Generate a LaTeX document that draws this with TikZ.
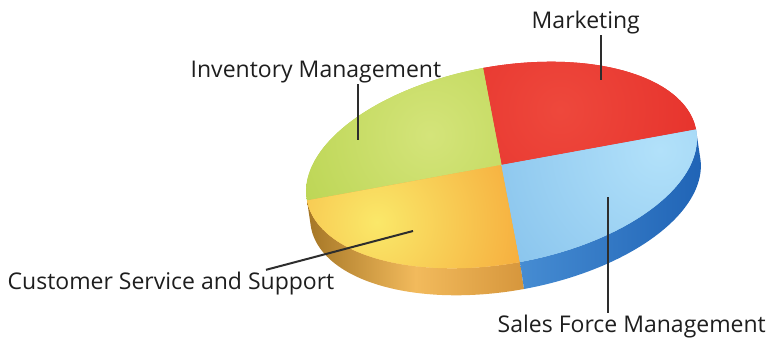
\documentclass[tikz,border=0pt]{standalone}
\usepackage{fontspec}
\setmainfont{Open Sans}
\definecolor{redbase}{RGB}{230,50,44}
\definecolor{redhl}{RGB}{238,72,60}
\definecolor{grbase}{RGB}{184,211,78}
\definecolor{grhl}{RGB}{212,228,122}
\definecolor{orbase}{RGB}{246,174,62}
\definecolor{orhl}{RGB}{250,232,105}
\definecolor{blbase}{RGB}{128,190,234}
\definecolor{blhl}{RGB}{178,225,250}
\definecolor{orsideA}{RGB}{165,118,38}
\definecolor{orsideB}{RGB}{242,186,92}
\definecolor{orsideC}{RGB}{214,150,60}
\definecolor{blsideA}{RGB}{70,140,210}
\definecolor{blsideB}{RGB}{32,100,182}
\definecolor{labeltext}{RGB}{30,30,30}
\definecolor{leadercol}{RGB}{45,45,45}
\begin{document}
\begin{tikzpicture}[x=1pt,y=1pt,
  declare function={ex(\t)=501.5+194.5*cos(\t)+18.5*sin(\t); ey(\t)=-165+35.5*cos(\t)-97*sin(\t);},
  lbl/.style={font=\fontsize{23}{27}\selectfont, text=labeltext, inner sep=1.5pt, anchor=base west},
  leader/.style={draw=leadercol, line width=2pt}]
\useasboundingbox (0,0) rectangle (766,-338);
\coordinate (c) at (501.5,-165);
% sides
\shade[left color=orsideA, right color=orsideC, middle color=orsideB]
  plot[domain=90:180,samples=60] ({ex(\x)},{ey(\x)}) -- plot[domain=180:90,samples=60] ({ex(\x)+4},{ey(\x)-27}) -- cycle;
\shade[left color=blsideA, right color=blsideB]
  plot[domain=0:90,samples=60] ({ex(\x)},{ey(\x)}) -- plot[domain=90:0,samples=60] ({ex(\x)+4},{ey(\x)-27}) -- cycle;
% top slices
\begin{scope}
\clip (c) -- plot[domain=270:360,samples=60] ({ex(\x)},{ey(\x)}) -- cycle;
\fill[redbase] (280,0) rectangle (720,-200);
\shade[inner color=redhl, outer color=redbase] (560,-110) circle (150);
\end{scope}
\begin{scope}
\clip (c) -- plot[domain=180:270,samples=60] ({ex(\x)},{ey(\x)}) -- cycle;
\fill[grbase] (280,0) rectangle (720,-240);
\shade[inner color=grhl, outer color=grbase] (430,-135) circle (170);
\end{scope}
\begin{scope}
\clip (c) -- plot[domain=90:180,samples=60] ({ex(\x)},{ey(\x)}) -- cycle;
\fill[orbase] (280,-120) rectangle (720,-300);
\shade[inner color=orhl, outer color=orbase] (377,-222) circle (150);
\end{scope}
\begin{scope}
\clip (c) -- plot[domain=0:90,samples=60] ({ex(\x)},{ey(\x)}) -- cycle;
\fill[blbase] (280,-100) rectangle (720,-300);
\shade[inner color=blhl, outer color=blbase] (660,-150) circle (230);
\end{scope}
% labels
\node[lbl] (mkt) at (530,-28) {Marketing};
\node[lbl] (inv) at (189,-77) {Inventory Management};
\node[lbl] (cust) at (6,-289) {Customer Service and Support};
\node[lbl] (sfm) at (496,-332) {Sales Force Management};
% leaders
\coordinate (mkp) at (601,-80);
\coordinate (invp) at (358,-140);
\coordinate (csp) at (413,-231);
\coordinate (csq) at (266,-267);
\coordinate (sfp) at (608,-197);
\draw[leader] (mkp |- mkt.south) -- (mkp);
\draw[leader] (invp |- inv.south) -- (invp);
\draw[leader] (csp) -- (csq |- cust.north);
\draw[leader] (sfp) -- (sfp |- sfm.north);
\end{tikzpicture}
\end{document}
